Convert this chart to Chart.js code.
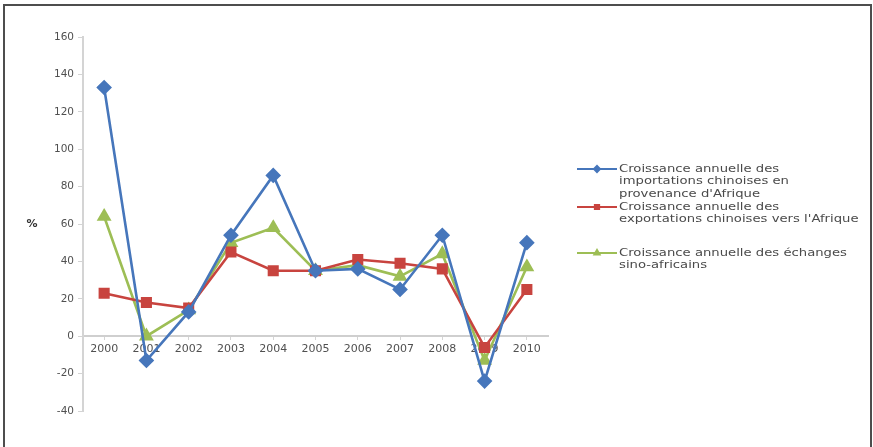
<!DOCTYPE html>
<html>
<head>
<meta charset="utf-8">
<script src="https://cdn.jsdelivr.net/npm/chart.js@4/dist/chart.umd.min.js"></script>
<style>
  html, body { margin: 0; padding: 0; background: #fff; }
  #wrap { position: relative; width: 873px; height: 447px; overflow: hidden; }
  #frame { position: absolute; left: 3px; top: 4px; width: 865px; height: 470px;
           border: 2px solid #4d4d4d; border-bottom: none; }
  #chart { position: absolute; left: 0; top: 0; }
</style>
</head>
<body>
<div id="wrap">
  <div id="frame"></div>
  <canvas id="chart" width="873" height="447"></canvas>
</div>
<script>
// Years on the category axis
const years = ['2000', '2001', '2002', '2003', '2004', '2005', '2006', '2007', '2008', '2009', '2010'];

// Annual growth rates, in %
const importGrowth = [133, -13, 13, 54, 86, 35, 36, 25, 54, -24, 50];
const exportGrowth = [23, 18, 15, 45, 35, 35, 41, 39, 36, -6, 25];
const tradeGrowth  = [64, 0, 14, 50, 58, 35, 38, 32, 44, -13, 37];

// Legend text, one line per entry row
const importLabel = ['Croissance annuelle des', 'importations chinoises en', "provenance d'Afrique"];
const exportLabel = ['Croissance annuelle des', "exportations chinoises vers l'Afrique"];
const tradeLabel  = ['Croissance annuelle des échanges', 'sino-africains'];

// Value axis range
const yMin = -40, yMax = 160, yStep = 20;
const unitLabel = '%';

const FONT = '"DejaVu Sans", "Liberation Sans", sans-serif';
const BLUE = '#4676BB', RED = '#C8443F', GREEN = '#9DBE55';

// Right-hand legend with multi-line labels and line+marker swatches
const sideLegend = {
  id: 'sideLegend',
  afterDraw(chart) {
    const ctx = chart.ctx;
    const rows = [169, 207, 253];
    ctx.save();
    chart.data.datasets.forEach((ds, i) => {
      const y = rows[i];
      ctx.strokeStyle = ds.borderColor;
      ctx.lineWidth = 2;
      ctx.beginPath();
      ctx.moveTo(577, y);
      ctx.lineTo(617, y);
      ctx.stroke();
      ctx.fillStyle = ds.borderColor;
      Chart.helpers.drawPoint(ctx, { pointStyle: ds.pointStyle, radius: 3, rotation: 0, borderWidth: 1 }, 597, y);
      // text is drawn slightly widened horizontally
      ctx.save();
      ctx.translate(619, y);
      ctx.scale(1.2, 1);
      ctx.fillStyle = '#4a4a4a';
      ctx.font = '11px ' + FONT;
      ctx.textAlign = 'left';
      ctx.textBaseline = 'middle';
      ds.label.forEach((line, j) => ctx.fillText(line, 0, j * 12.5));
      ctx.restore();
    });
    // unit label beside the value axis
    ctx.fillStyle = '#333';
    ctx.font = 'bold 11px ' + FONT;
    ctx.textAlign = 'center';
    ctx.textBaseline = 'middle';
    ctx.fillText(unitLabel, 32, 224);
    ctx.restore();
  }
};

const mk = (label, data, color, style) => ({
  label, data,
  borderColor: color, backgroundColor: color,
  pointBackgroundColor: color, pointBorderColor: color,
  pointStyle: style, pointRadius: 6, pointHoverRadius: 6,
  borderWidth: 2.6, tension: 0, fill: false
});

new Chart(document.getElementById('chart'), {
  type: 'line',
  data: {
    labels: years,
    datasets: [
      mk(importLabel, importGrowth, BLUE, 'rectRot'),
      mk(exportLabel, exportGrowth, RED, 'rect'),
      mk(tradeLabel, tradeGrowth, GREEN, 'triangle')
    ]
  },
  options: {
    responsive: false,
    animation: false,
    layout: { padding: { left: 0, right: 325, top: 37, bottom: 36 } },
    plugins: { legend: { display: false }, tooltip: { enabled: false } },
    scales: {
      x: {
        type: 'category',
        position: { y: 0 },
        offset: true,
        grid: { display: true, drawOnChartArea: false, drawTicks: true, tickLength: 3, color: '#d4d4d4' },
        border: { display: true, color: '#cfcfcf', width: 2 },
        ticks: { color: '#505050', font: { family: FONT, size: 11 }, padding: 3, maxRotation: 0, autoSkip: false }
      },
      y: {
        min: yMin, max: yMax,
        afterFit(scale) { scale.width = 83; },
        grid: { display: true, drawOnChartArea: false, drawTicks: true, tickLength: 5, color: '#d4d4d4' },
        border: { display: true, color: '#d4d4d4', width: 2 },
        ticks: { stepSize: yStep, color: '#505050', font: { family: FONT, size: 10.5 }, padding: 4 }
      }
    }
  },
  plugins: [sideLegend]
});
</script>
</body>
</html>
